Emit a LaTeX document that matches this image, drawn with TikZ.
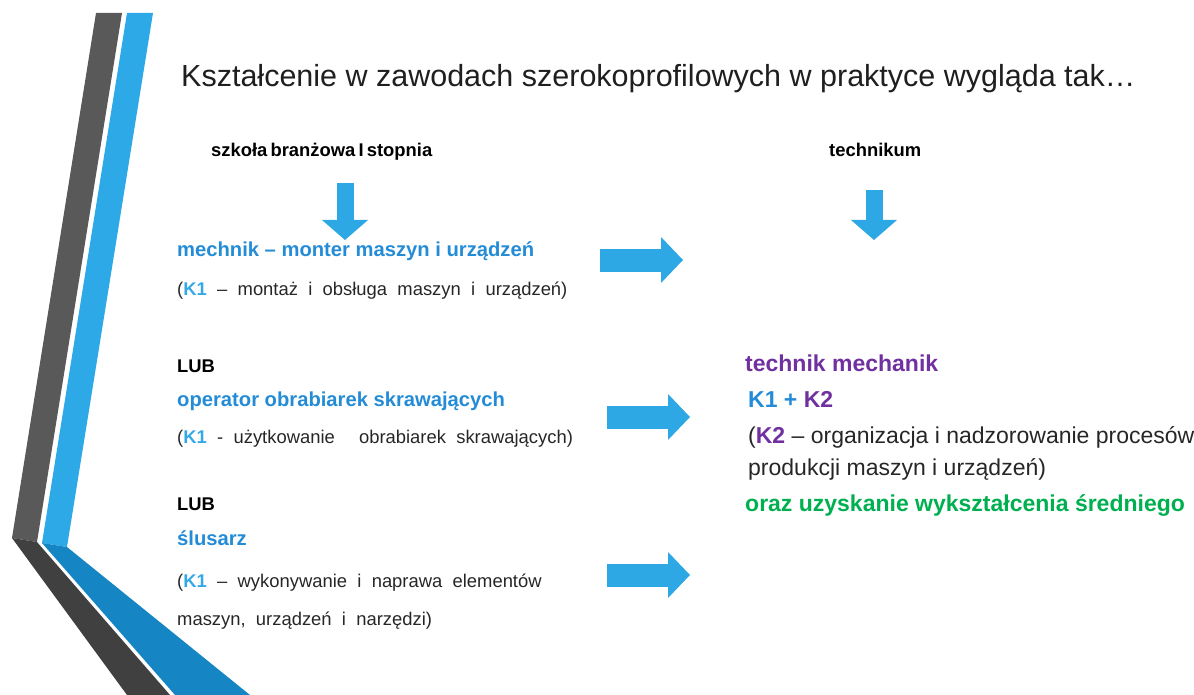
\documentclass[tikz,border=0pt]{standalone}
\usepackage{fontspec}
\setmainfont{Liberation Sans}
\usetikzlibrary{arrows.meta,positioning}
\definecolor{bandgray}{RGB}{89,89,89}
\definecolor{banddark}{RGB}{64,64,64}
\definecolor{bandblue}{RGB}{46,169,232}
\definecolor{banddeep}{RGB}{22,133,196}
\definecolor{arrowblue}{RGB}{46,168,229}
\definecolor{jobblue}{RGB}{36,140,214}
\definecolor{kblue}{RGB}{53,169,232}
\definecolor{kpurple}{RGB}{112,48,160}
\definecolor{kgreen}{RGB}{0,176,80}
\definecolor{textgray}{RGB}{38,38,38}
\newcommand\widesp{\spaceskip 0.56em\relax}
\newcommand\tightsp{\spaceskip 0.17em\relax}
\tikzset{
  desc/.style  = {anchor=base west, inner sep=0pt, text=textgray,
                  font=\fontsize{18.4}{22}\selectfont\widesp},
  lub/.style   = {desc, text=black, font=\fontsize{18.4}{22}\selectfont\bfseries},
  job/.style   = {desc, text=jobblue, font=\fontsize{20.2}{24}\selectfont\bfseries},
  big/.style   = {desc, font=\fontsize{23}{28}\selectfont},
  bigbold/.style = {big, font=\fontsize{23}{28}\selectfont\bfseries},
  downarrow/.style  = {draw=arrowblue, line width=17pt,
                  -{Triangle[width=46pt,length=20pt,line width=0pt]}},
  rightarrow/.style = {draw=arrowblue, line width=23pt,
                  -{Triangle[width=46pt,length=22pt,line width=0pt]}}
}

\begin{document}
\begin{tikzpicture}[x=1pt,y=-1pt]
\useasboundingbox (0,0) rectangle (1194,695);

% ozdobne pasy z lewej
\fill[bandgray] (96,13) -- (122,13) -- (37,542) -- (12,538) -- cycle;
\fill[bandblue] (127,13) -- (153,13) -- (67,547) -- (42,543) -- cycle;
\fill[banddark] (12,538) -- (37,542) -- (170,695) -- (127,695) -- cycle;
\fill[banddeep] (42,543) -- (67,547) -- (250,695) -- (175,695) -- cycle;

% tytul
\node[desc, text=black!88, font=\fontsize{30.5}{36}\selectfont] (title) at (181,87)
  {Kształcenie w zawodach szerokoprofilowych w praktyce wygląda tak…};

% szkoly
\node[lub, font=\fontsize{18.4}{22}\selectfont\bfseries\tightsp]
  (szkola) at (211,157) {szkoła branżowa I stopnia};
\node[lub] (tech) at (829,157) {technikum};

% lewa kolumna
\node[job] (mon) at (177,257) {mechnik – monter maszyn i urządzeń};
\node[desc] (mon k) at (177,295)
  {(\textcolor{kblue}{\bfseries K1} – montaż i obsługa maszyn i urządzeń)};
\node[lub] (lub1) at (177,372) {LUB};
\node[job] (op) at (177,406) {operator obrabiarek skrawających};
\node[desc] (op k) at (177,443)
  {(\textcolor{kblue}{\bfseries K1} - użytkowanie\hspace{14pt} obrabiarek skrawających)};
\node[lub] (lub2) at (177,510) {LUB};
\node[job] (sl) at (177,545) {ślusarz};
\node[desc] (sl k) at (177,587)
  {(\textcolor{kblue}{\bfseries K1} – wykonywanie i naprawa elementów};
\node[desc] (sl k2) at (177,625) {maszyn, urządzeń i narzędzi)};

% prawa kolumna
\node[bigbold, text=kpurple] (tm) at (745,371) {technik mechanik};
\node[bigbold] (kk) at (748,407)
  {\textcolor{jobblue}{K1 +} \textcolor{kpurple}{K2}};
\node[big] (k2) at (748,443)
  {(\textcolor{kpurple}{\bfseries K2} – organizacja i nadzorowanie procesów};
\node[big] (k2b) at (748,475) {produkcji maszyn i urządzeń)};
\node[bigbold, text=kgreen] (sr) at (745,511) {oraz uzyskanie wykształcenia średniego};

% strzalki
\coordinate (d1a) at (345,183);
\coordinate (d1b) at (345,240);
\coordinate (d2a) at (874,190);
\coordinate (d2b) at (874,240);
\draw[downarrow] (d1a) -- (d1b);
\draw[downarrow] (d2a) -- (d2b);
\foreach \x/\y/\n in {600/260/1,607/417/2,607/575/3}{
  \coordinate (r\n a) at (\x,\y);
  \coordinate (r\n b) at (\x+83,\y);
  \draw[rightarrow] (r\n a) -- (r\n b);
}
\end{tikzpicture}
\end{document}
